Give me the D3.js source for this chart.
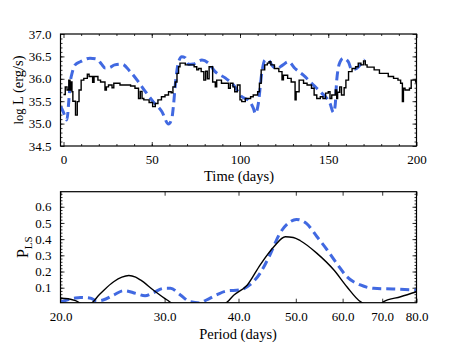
<!DOCTYPE html>
<html>
<head>
<meta charset="utf-8">
<script src="https://cdn.jsdelivr.net/npm/d3@7"></script>
<style>
body { margin: 0; background: #fff; }
svg text { font-family: "Liberation Serif", "DejaVu Serif", serif; fill: #000; }
</style>
</head>
<body>
<script>
// light curve, step data (start time of each bin, log L)
var lcTime = [0, 1, 2, 3, 3.7, 4.3, 4.8, 5.3, 6.8, 7.8, 8.8, 10, 11.5, 13.5, 14.5, 16.5, 17.3, 19.5, 21, 23.5,
	24.3, 25.5, 27.5, 28.5, 32, 38, 40.5, 42.5, 43.5, 44.5, 45.5, 48.5, 50.5, 52, 53.5, 55.5, 57.5, 59.5, 61, 62,
	63.3, 64.3, 65.2, 66, 69, 74, 75.5, 76.5, 78, 79.5, 80.5, 81.5, 82.5, 84.5, 86, 86.8, 89.5, 93.5, 94.5, 96,
	97, 98.5, 100, 101, 103, 106, 107.5, 110, 111, 112, 114, 115.5, 116.5, 117.5, 119.5, 122, 123.8, 124.6, 127, 129,
	131.2, 131.8, 133.5, 136, 138, 140.5, 142, 143.5, 145.5, 147, 148.5, 150, 151, 152, 154, 154.8, 155.3, 156.5, 157.5, 159,
	160, 161.5, 163.5, 165.5, 167, 168.5, 170, 171, 172, 176, 179, 184, 187, 189.5, 191, 192, 192.6, 193.5, 196, 197, 199.5, 200];
var lcLogL = [35.65, 35.82, 35.75, 35.97, 35.75, 35.93, 35.71, 35.5, 35.19, 35.49, 35.75, 35.97, 36.01, 36.1, 36.05, 35.92, 36.05, 35.97, 35.93, 35.75,
	35.82, 35.86, 35.8, 35.9, 35.86, 35.84, 35.79, 35.56, 35.72, 35.56, 35.53, 35.47, 35.38, 35.45, 35.53, 35.6, 35.64, 35.71, 35.69, 35.82,
	35.93, 36.12, 36.27, 36.35, 36.31, 36.27, 36.2, 36.23, 36.16, 35.97, 36.17, 36.0, 36.27, 35.93, 35.82, 35.97, 35.9, 35.79, 35.9, 35.82,
	35.71, 35.86, 35.53, 35.49, 35.56, 35.6, 35.64, 35.71, 35.9, 36.2, 36.31, 36.35, 36.38, 36.31, 36.23, 36.16, 35.98, 36.08, 36.01, 35.93,
	35.53, 35.71, 35.97, 35.9, 35.86, 35.79, 35.64, 35.56, 35.6, 35.56, 35.68, 35.71, 35.56, 35.64, 35.75, 35.56, 35.7, 35.82, 35.64, 35.8,
	35.97, 36.16, 36.23, 36.27, 36.35, 36.31, 36.4, 36.31, 36.26, 36.2, 36.12, 36.05, 36.01, 35.97, 35.9, 35.49, 35.79, 35.75, 35.79, 35.97, 35.93, 35.93];

// model light curve (dashed)
var modelTime = [-1.5, 0, 1.9, 3, 3.8, 5, 6.6, 9.5, 15, 19, 21.5, 23.6, 26, 29, 33, 37.8, 42.3, 46.3, 50.8, 55.7,
	59.5, 61.4, 62.3, 63.3, 65, 67, 69, 71, 73.6, 78.4, 82.1, 85.9, 91.6, 96.3, 101, 104.8, 107.6, 108.7, 110.4, 112.3,
	114.2, 116.1, 118, 120.8, 124, 127.4, 131.2, 135.9, 141.6, 146.3, 151, 152.9, 153.9, 154.8, 156.7, 158.5, 161.4, 163.3, 166.1, 169, 170.8];
var modelLogL = [35.38, 35.25, 35.08, 35.5, 35.9, 36.15, 36.31, 36.38, 36.46, 36.44, 36.33, 36.24, 36.25, 36.31, 36.33, 36.16, 35.94, 35.72, 35.49, 35.27,
	34.99, 35.12, 35.4, 35.85, 36.35, 36.49, 36.47, 36.32, 36.33, 36.42, 36.35, 36.16, 36.02, 35.86, 35.6, 35.52, 35.34, 35.22, 35.45, 36.12,
	36.42, 36.42, 36.31, 36.23, 36.3, 36.38, 36.23, 36.08, 35.86, 35.68, 35.45, 35.25, 35.4, 35.97, 36.38, 36.46, 36.38, 36.2, 36.23, 36.35, 36.43];

// Lomb-Scargle periodograms
var lsPeriod = [20, 20.6, 21.2, 21.8, 22.4, 23.3, 24.6, 25.4, 26.1, 26.8, 27.3, 28.7, 30.3, 31.1, 37.8, 39.3, 41.4, 43.5, 45.9, 48.0,
	49.5, 50.9, 54.3, 58.0, 61.0, 64.3, 65.5, 69.5, 70.4, 75.2, 80];
var lsPower = [0.035, 0.032, 0.02, 0.0, 0.0, 0.06, 0.137, 0.165, 0.175, 0.165, 0.148, 0.086, 0.024, 0.0, 0.0, 0.055, 0.117, 0.24, 0.353, 0.415,
	0.41, 0.39, 0.312, 0.209, 0.106, 0.014, 0.0, 0.0, 0.014, 0.044, 0.075];
var lsModelPeriod = [20, 21.1, 21.6, 22.5, 23.0, 23.6, 24.6, 25.6, 26.8, 27.8, 28.7, 29.9, 30.7, 31.9, 33.1, 34.4, 35.3, 36.7, 38.2, 40.2,
	41.8, 43.5, 45.2, 47.0, 48.9, 50.1, 52.1, 54.3, 56.5, 58.9, 61.0, 64.3, 67.7, 73.0, 80];
var lsModelPower = [0.012, 0.035, 0.04, 0.035, 0.018, 0.024, 0.055, 0.082, 0.065, 0.05, 0.069, 0.096, 0.096, 0.055, 0.014, 0.006, 0.024, 0.055, 0.08, 0.086,
	0.117, 0.189, 0.302, 0.436, 0.507, 0.522, 0.497, 0.415, 0.333, 0.24, 0.168, 0.117, 0.096, 0.092, 0.086];

var timeTicks = [0, 50, 100, 150, 200];
var logLTicks = [34.5, 35.0, 35.5, 36.0, 36.5, 37.0];
var periodTicks = [20, 30, 40, 50, 60, 70, 80];
var powerTicks = [0.1, 0.2, 0.3, 0.4, 0.5, 0.6];

var width = 463, height = 348;
var blue = '#4169e1';
var svg = d3.select('body').append('svg')
	.attr('width', width)
	.attr('height', height);

var left = 60.5, right = 416.5;

// tick helper: inward ticks, no domain line
function ticks(g, axisFn, scale, values, size, fmt) {
	var ax = axisFn(scale).tickValues(values).tickSize(-size).tickPadding(size + 5)
		.tickFormat(fmt || '');
	g.call(ax);
	g.select('.domain').remove();
	g.selectAll('line').attr('stroke', '#000').attr('stroke-width', 0.8);
	g.selectAll('text').attr('font-size', 13).attr('font-family', '"Liberation Serif", serif');
	return g;
}

function range(a, b, s) {
	var out = [];
	for (var v = a; v <= b + 1e-9; v += s) { out.push(+v.toFixed(3)); }
	return out;
}

// ---- top panel: light curve
var top1 = 34, bot1 = 146;
var x1 = d3.scaleLinear().domain([-1.7, 200]).range([left, right]);
var y1 = d3.scaleLinear().domain([34.5, 37]).range([bot1, top1]);

svg.append('clipPath').attr('id', 'clip1').append('rect')
	.attr('x', left).attr('y', top1).attr('width', right - left).attr('height', bot1 - top1);

var fmt1 = d3.format('.1f');
ticks(svg.append('g').attr('transform', 'translate(0,' + bot1 + ')'), d3.axisBottom, x1, timeTicks, 4, d3.format('d'));
ticks(svg.append('g').attr('transform', 'translate(0,' + bot1 + ')'), d3.axisBottom, x1, range(10, 190, 10), 2);
ticks(svg.append('g').attr('transform', 'translate(0,' + top1 + ')'), d3.axisTop, x1, timeTicks, 4);
ticks(svg.append('g').attr('transform', 'translate(0,' + top1 + ')'), d3.axisTop, x1, range(10, 190, 10), 2);
ticks(svg.append('g').attr('transform', 'translate(' + left + ',0)'), d3.axisLeft, y1, logLTicks, 4, fmt1);
ticks(svg.append('g').attr('transform', 'translate(' + left + ',0)'), d3.axisLeft, y1, range(34.6, 36.9, 0.1), 2);
ticks(svg.append('g').attr('transform', 'translate(' + right + ',0)'), d3.axisRight, y1, logLTicks, 4);
ticks(svg.append('g').attr('transform', 'translate(' + right + ',0)'), d3.axisRight, y1, range(34.6, 36.9, 0.1), 2);

var lc = lcTime.map(function(t, i) { return [t, lcLogL[i]]; });
var model = modelTime.map(function(t, i) { return [t, modelLogL[i]]; });

var g1 = svg.append('g').attr('clip-path', 'url(#clip1)');
g1.append('path')
	.attr('d', d3.line().curve(d3.curveMonotoneX)
		.x(function(d) { return x1(d[0]); }).y(function(d) { return y1(d[1]); })(model))
	.attr('fill', 'none').attr('stroke', blue).attr('stroke-width', 3)
	.attr('stroke-dasharray', '9,5');
g1.append('path')
	.attr('d', d3.line().curve(d3.curveStepAfter)
		.x(function(d) { return x1(d[0]); }).y(function(d) { return y1(d[1]); })(lc))
	.attr('fill', 'none').attr('stroke', '#000').attr('stroke-width', 1.4);

svg.append('rect').attr('x', left).attr('y', top1).attr('width', right - left).attr('height', bot1 - top1)
	.attr('fill', 'none').attr('stroke', '#000').attr('stroke-width', 1.2);

svg.append('text').attr('x', 239).attr('y', 181).attr('text-anchor', 'middle')
	.attr('font-size', 14.5).text('Time (days)');
var yl1 = svg.append('text').attr('transform', 'translate(23,' + ((top1 + bot1) / 2) + ') rotate(-90)')
	.attr('text-anchor', 'middle').attr('font-size', 14.5);
yl1.append('tspan').attr('font-size', 12.5).text('log');
yl1.append('tspan').text(' L (erg/s)');

// ---- bottom panel: periodogram
var top2 = 191.7, bot2 = 302.7;
var x2 = d3.scaleLog().domain([20, 80]).range([left, right]);
var y2 = d3.scaleLinear().domain([0.0074, 0.693]).range([bot2, top2]);

svg.append('clipPath').attr('id', 'clip2').append('rect')
	.attr('x', left).attr('y', top2).attr('width', right - left).attr('height', bot2 - top2);

ticks(svg.append('g').attr('transform', 'translate(0,' + bot2 + ')'), d3.axisBottom, x2, periodTicks, 4, fmt1);
ticks(svg.append('g').attr('transform', 'translate(0,' + top2 + ')'), d3.axisTop, x2, periodTicks, 4);
ticks(svg.append('g').attr('transform', 'translate(' + left + ',0)'), d3.axisLeft, y2, powerTicks, 4, fmt1);
ticks(svg.append('g').attr('transform', 'translate(' + left + ',0)'), d3.axisLeft, y2, range(0.02, 0.68, 0.02), 2);
ticks(svg.append('g').attr('transform', 'translate(' + right + ',0)'), d3.axisRight, y2, powerTicks, 4);
ticks(svg.append('g').attr('transform', 'translate(' + right + ',0)'), d3.axisRight, y2, range(0.02, 0.68, 0.02), 2);

var ls = lsPeriod.map(function(p, i) { return [p, lsPower[i]]; });
var lsModel = lsModelPeriod.map(function(p, i) { return [p, lsModelPower[i]]; });
var line2 = d3.line().curve(d3.curveMonotoneX)
	.x(function(d) { return x2(d[0]); }).y(function(d) { return y2(d[1]); });

var g2 = svg.append('g').attr('clip-path', 'url(#clip2)');
g2.append('path').attr('d', line2(lsModel))
	.attr('fill', 'none').attr('stroke', blue).attr('stroke-width', 3)
	.attr('stroke-dasharray', '9,5');
g2.append('path').attr('d', line2(ls))
	.attr('fill', 'none').attr('stroke', '#000').attr('stroke-width', 1.4);

svg.append('rect').attr('x', left).attr('y', top2).attr('width', right - left).attr('height', bot2 - top2)
	.attr('fill', 'none').attr('stroke', '#000').attr('stroke-width', 1.2);

svg.append('text').attr('x', 238).attr('y', 339).attr('text-anchor', 'middle')
	.attr('font-size', 14.5).text('Period (days)');
var yl2 = svg.append('text').attr('transform', 'translate(28,' + ((top2 + bot2) / 2) + ') rotate(-90)')
	.attr('text-anchor', 'middle').attr('font-size', 16);
yl2.append('tspan').text('P');
yl2.append('tspan').attr('font-size', 11).attr('dy', 4).text('LS');
</script>
</body>
</html>
